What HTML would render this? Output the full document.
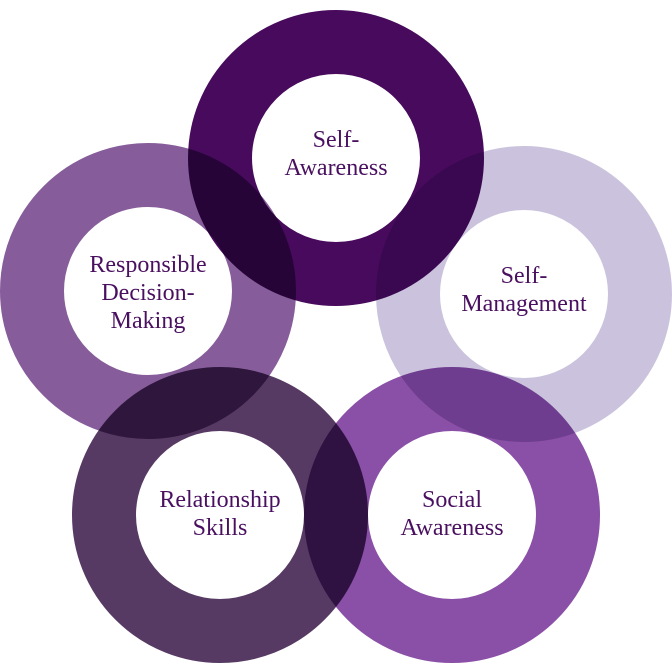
<!DOCTYPE html>
<html><head><style>
html,body{margin:0;padding:0;background:#fff;}
svg{display:block;}
text{font-family:"Liberation Serif",serif;font-size:24px;fill:#4a1060;text-anchor:middle;}
</style></head><body>
<svg width="672" height="663" viewBox="0 0 672 663" xmlns="http://www.w3.org/2000/svg">
<g style="isolation:isolate">
<circle cx="336" cy="158" r="116" fill="none" stroke="#470a5c" stroke-width="64" style="mix-blend-mode:multiply"/>
<circle cx="524" cy="294" r="116" fill="none" stroke="#cbc3dd" stroke-width="64" style="mix-blend-mode:multiply"/>
<circle cx="148" cy="291" r="116" fill="none" stroke="#865d9a" stroke-width="64" style="mix-blend-mode:multiply"/>
<circle cx="220" cy="515" r="116" fill="none" stroke="#573a63" stroke-width="64" style="mix-blend-mode:multiply"/>
<circle cx="452" cy="515" r="116" fill="none" stroke="#8a4fa6" stroke-width="64" style="mix-blend-mode:multiply"/>
</g>
<text x="336" y="147">Self-</text>
<text x="336" y="175">Awareness</text>
<text x="524" y="283">Self-</text>
<text x="524" y="311">Management</text>
<text x="148" y="272">Responsible</text>
<text x="148" y="300">Decision-</text>
<text x="148" y="328">Making</text>
<text x="220" y="507">Relationship</text>
<text x="220" y="535">Skills</text>
<text x="452" y="507">Social</text>
<text x="452" y="535">Awareness</text>
</svg>
</body></html>
